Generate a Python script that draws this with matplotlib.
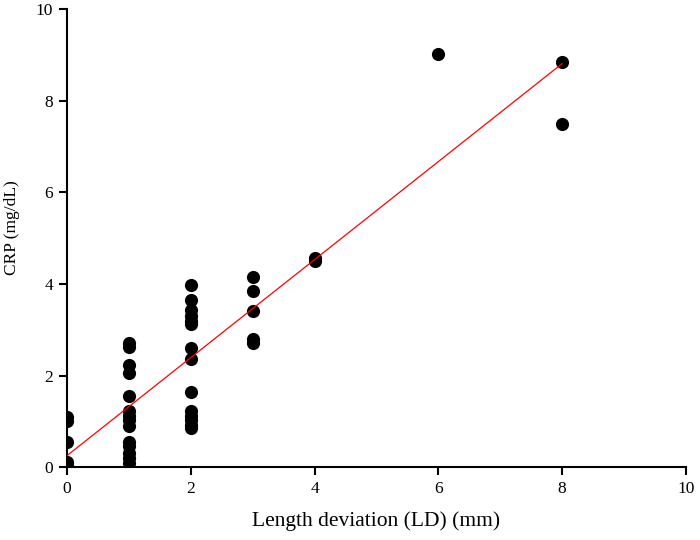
import matplotlib
matplotlib.use("Agg")
import matplotlib.pyplot as plt
import numpy as np

plt.rcParams['font.family'] = ['Liberation Serif', 'DejaVu Serif']

ld_mm = [0, 0, 0, 0, 0,
         1, 1, 1, 1, 1, 1, 1, 1, 1, 1, 1, 1, 1, 1,
         2, 2, 2, 2, 2, 2, 2, 2, 2, 2, 2, 2, 2, 2,
         3, 3, 3, 3, 3,
         4, 4,
         6,
         8, 8]
crp = [1.1, 1.0, 0.55, 0.12, 0.05,
       2.7, 2.63, 2.22, 2.05, 1.55, 1.22, 1.12, 1.02, 0.9, 0.55, 0.45, 0.3, 0.2, 0.1,
       3.97, 3.65, 3.42, 3.3, 3.2, 3.12, 2.6, 2.37, 1.65, 1.22, 1.12, 1.02, 0.92, 0.85,
       4.15, 3.85, 3.4, 2.8, 2.7,
       4.57, 4.5,
       9.03,
       8.85, 7.5]

fit_x = [0, 8]
fit_intercept = 0.25
fit_slope = 1.07

x_ticks = [0, 2, 4, 6, 8, 10]
y_ticks = [0, 2, 4, 6, 8, 10]

fig = plt.figure(figsize=(7, 5.4), dpi=100)
ax = fig.add_axes([0.0957, 0.135, 0.884, 0.848])

ax.scatter(ld_mm, crp, s=90, color='black', zorder=3, linewidths=0)
fx = np.array(fit_x, dtype=float)
ax.plot(fx, fit_intercept + fit_slope * fx, color='red', lw=0.9, zorder=4)

ax.set_xlim(0, 10)
ax.set_ylim(0, 10)
ax.set_xticks(x_ticks)
ax.set_yticks(y_ticks)
ax.spines['top'].set_visible(False)
ax.spines['right'].set_visible(False)
for s in ['left', 'bottom']:
    ax.spines[s].set_linewidth(1.5)
ax.tick_params(direction='out', length=6, width=1.5, labelsize=12.5, pad=4)
ax.set_xlabel('Length deviation (LD) (mm)', fontsize=15.5, labelpad=10)
ax.set_ylabel('CRP (mg/dL)', fontsize=12.5)
ax.yaxis.set_label_coords(-0.0755, 0.522)

fig.savefig('out.png', dpi=100)
